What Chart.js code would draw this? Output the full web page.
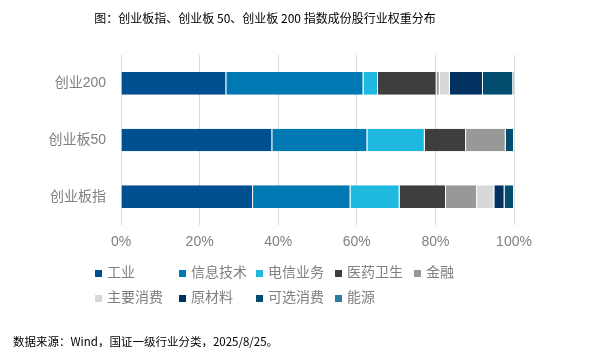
<!DOCTYPE html>
<html>
<head>
<meta charset="utf-8">
<script src="https://cdn.jsdelivr.net/npm/chart.js@4"></script>
<style>
  html, body { margin: 0; padding: 0; background: #fff; }
  #wrap { position: relative; width: 603px; height: 364px; }
</style>
</head>
<body>
<div id="wrap"><canvas id="myChart" width="603" height="364"></canvas></div>
<script>
// data (percent of index weight)
var categories = ['创业200', '创业板50', '创业板指'];
var industries = ['工业', '信息技术', '电信业务', '医药卫生', '金融', '主要消费', '原材料', '可选消费', '能源'];
var industryColors = ['#004F91', '#0078B4', '#1FB9E0', '#3E3E3E', '#989898', '#D8D8D8', '#003160', '#004D70', '#2B7C9C'];
// one array per industry, ordered like categories
var weights = [
  [26.8, 38.5, 33.6],  // 工业
  [34.9, 24.2, 24.8],  // 信息技术
  [3.7, 14.6, 12.5],   // 电信业务
  [14.9, 10.5, 11.8],  // 医药卫生
  [0.8, 10.1, 7.9],    // 金融
  [2.6, 0, 4.4],       // 主要消费
  [8.4, 0, 2.6],       // 原材料
  [7.7, 2.1, 2.4],     // 可选消费
  [0.2, 0, 0]          // 能源
];
var xTicks = [0, 20, 40, 60, 80, 100];

var titleText = '图：创业板指、创业板 50、创业板 200 指数成份股行业权重分布';
var sourceText = '数据来源：Wind，国证一级行业分类，2025/8/25。';

var fontFamily = "'Liberation Sans', 'Noto Sans CJK SC', sans-serif";

// title, source line and a grid legend like the Excel one
var extrasPlugin = {
  id: 'extras',
  afterDraw: function(chart) {
    var ctx = chart.ctx;
    ctx.save();
    ctx.fillStyle = '#000';
    ctx.textBaseline = 'middle';
    ctx.font = "12px 'Noto Sans CJK SC', sans-serif";
    ctx.textAlign = 'center';
    ctx.fillText(titleText, 265, 18);
    ctx.textAlign = 'left';
    ctx.font = "11.5px 'Noto Sans CJK SC', sans-serif";
    ctx.fillText(sourceText, 13, 342);

    var cols = [98, 182, 259, 338, 417];
    var rows = [273, 298];
    ctx.font = "14px " + fontFamily;
    chart.data.datasets.forEach(function(ds, i) {
      var x = cols[i % 5];
      var y = rows[Math.floor(i / 5)];
      ctx.fillStyle = ds.backgroundColor;
      ctx.fillRect(x - 3, y - 3, 7, 7);
      ctx.fillStyle = '#7F7F7F';
      ctx.fillText(ds.label, x + 9, y);
    });
    ctx.restore();
  }
};

var ctx = document.getElementById('myChart').getContext('2d');
var chart = new Chart(ctx, {
  type: 'bar',
  data: {
    labels: categories,
    datasets: industries.map(function(name, i) {
      return {
        label: name,
        data: weights[i],
        backgroundColor: industryColors[i],
        borderColor: 'rgba(255,255,255,0.15)',
        borderWidth: { left: 0, right: 1, top: 0, bottom: 0 },
        categoryPercentage: 1,
        barPercentage: 0.4
      };
    })
  },
  plugins: [extrasPlugin],
  options: {
    indexAxis: 'y',
    responsive: false,
    animation: false,
    events: [],
    layout: {
      padding: { left: 0, right: 89, top: 55, bottom: 109 }
    },
    plugins: {
      legend: { display: false },
      title: { display: false },
      tooltip: { enabled: false }
    },
    scales: {
      x: {
        stacked: true,
        min: 0,
        max: 100,
        afterBuildTicks: function(scale) {
          scale.ticks = xTicks.map(function(v) { return { value: v }; });
        },
        afterFit: function(scale) { scale.height = 30; },
        border: { display: false },
        grid: { color: '#D9D9D9', lineWidth: 1, drawTicks: false },
        ticks: {
          padding: 9,
          color: '#7F7F7F',
          font: { family: fontFamily, size: 14 },
          callback: function(v) { return v + '%'; }
        }
      },
      y: {
        stacked: true,
        afterFit: function(scale) { scale.width = 121; },
        border: { display: false },
        grid: { display: false, drawTicks: false },
        ticks: {
          padding: 15,
          color: '#7F7F7F',
          font: { family: fontFamily, size: 14 }
        }
      }
    }
  }
});
</script>
</body>
</html>
